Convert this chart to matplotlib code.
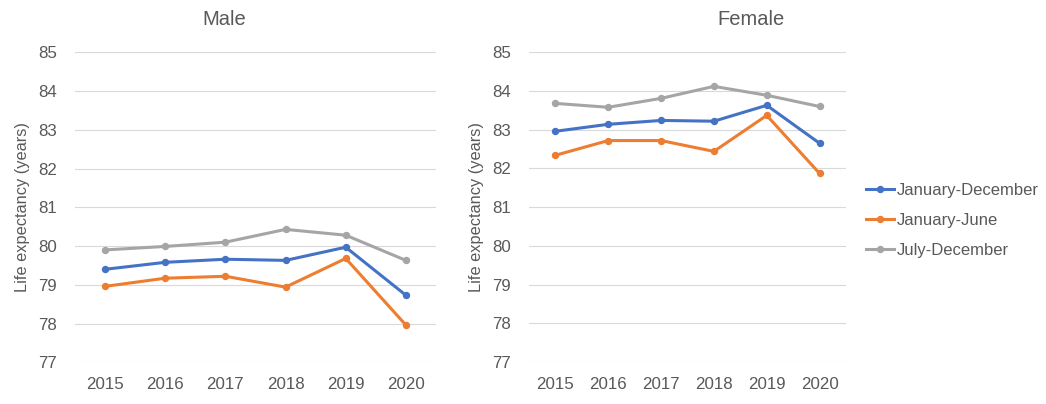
import matplotlib
matplotlib.use("Agg")
import matplotlib.pyplot as plt
from matplotlib.lines import Line2D

years = ["2015", "2016", "2017", "2018", "2019", "2020"]
series_names = ["January-December", "January-June", "July-December"]

male_jan_dec = [79.40, 79.58, 79.66, 79.63, 79.97, 78.73]
male_jan_jun = [78.96, 79.17, 79.22, 78.94, 79.68, 77.96]
male_jul_dec = [79.90, 79.99, 80.10, 80.43, 80.28, 79.63]

female_jan_dec = [82.96, 83.14, 83.24, 83.22, 83.63, 82.65]
female_jan_jun = [82.34, 82.72, 82.72, 82.44, 83.37, 81.87]
female_jul_dec = [83.68, 83.58, 83.81, 84.12, 83.89, 83.60]

y_ticks = [77, 78, 79, 80, 81, 82, 83, 84, 85]
colors = ["#4472C4", "#ED7D31", "#A5A5A5"]
text_color = "#595959"
grid_color = "#D9D9D9"

plt.rcParams["font.family"] = ["Liberation Sans", "DejaVu Sans"]

W, H = 1046, 404
fig = plt.figure(figsize=(W / 100, H / 100), dpi=100)


def px_axes(x0, x1, y_top, y_bot):
    return fig.add_axes([x0 / W, 1 - y_bot / H, (x1 - x0) / W, (y_bot - y_top) / H])


def draw(ax, data, title, title_x, ylabel_x):
    x = list(range(len(years)))
    for vals, c in zip(data, colors):
        ax.plot(x, vals, color=c, lw=2.2, marker="o", markersize=4.3,
                solid_capstyle="round", zorder=3, clip_on=False)
    ax.set_xlim(-0.5, len(years) - 0.5)
    ax.set_ylim(77, 85)
    ax.set_yticks(y_ticks)
    ax.set_yticklabels([str(v) for v in y_ticks])
    ax.set_xticks(x)
    ax.set_xticklabels(years)
    ax.grid(axis="y", color=grid_color, lw=0.8, zorder=0)
    ax.set_axisbelow(True)
    for s in ax.spines.values():
        s.set_visible(False)
    ax.tick_params(axis="both", length=0, labelsize=12.2, colors=text_color)
    ax.tick_params(axis="x", pad=10.5)
    ax.tick_params(axis="y", pad=13)
    fig.text(title_x / W, 1 - 19.5 / H, title, ha="center", va="center",
             fontsize=14.5, color=text_color)
    fig.text(ylabel_x / W, 1 - 207 / H, "Life expectancy (years)", rotation=90,
             ha="center", va="center", fontsize=11.8, color=text_color)


ax1 = px_axes(75, 436, 52.3, 362.3)
draw(ax1, [male_jan_dec, male_jan_jun, male_jul_dec], "Male", 224, 22.5)

ax2 = px_axes(529, 846, 52.3, 362.0)
draw(ax2, [female_jan_dec, female_jan_jun, female_jul_dec], "Female", 751, 476)

handles = [Line2D([0], [0], color=c, lw=2.2, marker="o", markersize=4.3) for c in colors]
leg = fig.legend(handles, series_names, loc="center left",
                 bbox_to_anchor=(866 / W, 1 - 220 / H), frameon=False,
                 fontsize=12, handlelength=1.68, handletextpad=0.15,
                 labelspacing=0.9, borderpad=0, borderaxespad=0)
for t in leg.get_texts():
    t.set_color(text_color)

fig.savefig("out.png", dpi=100)
